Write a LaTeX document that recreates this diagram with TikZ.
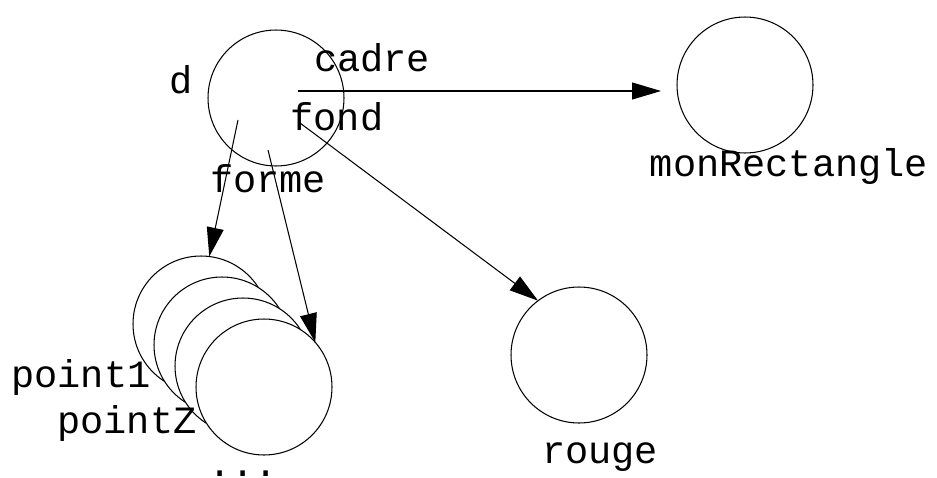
\documentclass[tikz,border=0pt]{standalone}
\usepackage{fontspec}
\setmonofont{Liberation Mono}
\usetikzlibrary{arrows.meta}

\begin{document}
\begin{tikzpicture}[
  x=0.02cm,y=-0.02cm,
  font=\ttfamily\fontsize{22}{26}\selectfont,
  >={Triangle[length=5.8mm,width=3.4mm]},
  obj/.style={draw,circle,fill=white,line width=0.6pt,
              minimum size=2.72cm,inner sep=0pt,outer sep=0pt},
  lbl/.style={anchor=base,inner sep=0pt},
  link/.style={->,line width=0.6pt},
]
\clip (0,0) rectangle (937,477);

% ---- objects ------------------------------------------------------------
\node[obj] (d)     at (276,98)  {};
\node[obj] (mon)   at (745,85)  {};
\node[obj] (rouge) at (579,355) {};

% stacked points, back to front
\node[obj] (pt1) at (201,324) {};
\node[obj] (pt2) at (222,345) {};
\node[obj] (pt3) at (243,366) {};
\node[obj] (pt4) at (264,387) {};

% ---- names --------------------------------------------------------------
\node[lbl] (dName)     at (181,93)  {d};
\node[lbl] (monName)   at (789,176) {monRectangle};
\node[lbl] (rougeName) at (600,463) {rouge};
\node[lbl] (pt1Name)   at (81,387)  {point1};
\node[lbl] (ptZName)   at (127,433) {pointZ};
\node[lbl] (dots)      at (243,476) {...};

% ---- fields of d --------------------------------------------------------
\coordinate (dCadre)  at (298,91);
\coordinate (dFond)   at (300,123);
\coordinate (dForme1) at (238,120);
\coordinate (dForme2) at (268,150);
\coordinate (cadreTip) at (661,91);

\draw[link] (dCadre) -- (cadreTip);
\draw[link] (dFond) -- (rouge.127);
\draw[link] (dForme1) -- (pt1.83);
\draw[link] (dForme2) -- (pt4.41);

\node[lbl] (cadre) at (372,71)  {cadre};
\node[lbl] (fond)  at (337,130) {fond};
\node[lbl] (forme) at (268,192) {forme};

\end{tikzpicture}
\end{document}
